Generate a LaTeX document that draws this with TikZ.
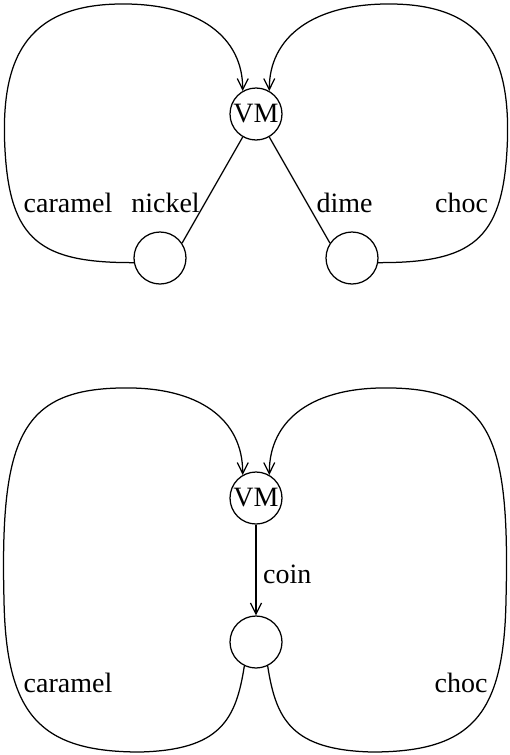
\documentclass[tikz,border=0pt]{standalone}
\usepackage{fontspec}
\setmainfont{Liberation Serif}
\usetikzlibrary{arrows.meta}
\begin{document}
\begin{tikzpicture}[x=1pt,y=-1pt,
  st/.style={circle,draw,line width=1.25pt,minimum size=52pt,inner sep=0pt,font=\fontsize{28}{30}\selectfont},
  lbl/.style={anchor=base,inner sep=0pt,font=\fontsize{28}{30}\selectfont},
  edge/.style={line width=1.25pt},
  arr/.style={line width=1.25pt,-{Straight Barb[length=11pt,width=11pt,line width=1.25pt]}}]
\useasboundingbox (0,0) rectangle (509,755);
% top diagram
\node[st] (vmA) at (256,114) {VM};
\node[st] (nickel) at (160,258) {};
\node[st] (dime) at (352,258) {};
\draw[edge] (vmA.240) -- (nickel.34);
\draw[edge] (vmA.300) -- (dime.146);
\draw[arr] (nickel.190) .. controls (40,263) and (10,240) .. (5,150)
  .. controls (0,60) and (25,5) .. (120,4)
  .. controls (200,3) and (243,38) .. (vmA.120);
\draw[arr] (dime.350) .. controls (472,263) and (502,240) .. (507,150)
  .. controls (512,60) and (487,5) .. (392,4)
  .. controls (312,3) and (269,38) .. (vmA.60);
\node[lbl] (lcaramelA) at (68,212) {caramel};
\node[lbl] (lnickel) at (165.5,212) {nickel};
\node[lbl] (ldime) at (344.5,212) {dime};
\node[lbl] (lchocA) at (461.5,212) {choc};
% bottom diagram
\node[st] (vmB) at (256,498) {VM};
\node[st] (coinst) at (256,642) {};
\draw[arr] (vmB.south) -- (coinst.north);
\node[lbl,anchor=base west] (lcoin) at (263,583) {coin};
\draw[arr] (coinst.244) .. controls (236,720) and (220,750) .. (140,752)
  .. controls (40,752) and (6,715) .. (4,600)
  .. controls (0,440) and (20,390) .. (120,388)
  .. controls (200,386) and (243,420) .. (vmB.120);
\draw[arr] (coinst.296) .. controls (276,720) and (292,750) .. (372,752)
  .. controls (472,752) and (504,715) .. (506,600)
  .. controls (510,440) and (492,390) .. (392,388)
  .. controls (312,386) and (269,420) .. (vmB.60);
\node[lbl] (lcaramelB) at (68,692) {caramel};
\node[lbl] (lchocB) at (461,692) {choc};
\end{tikzpicture}
\end{document}
